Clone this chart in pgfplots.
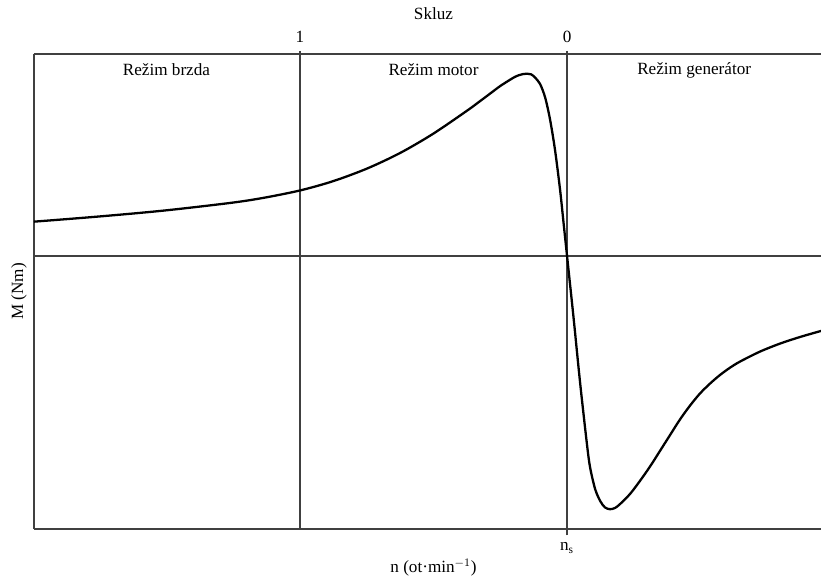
\documentclass[border=0pt]{standalone}
\usepackage{pgfplots}
\usepackage{pgfplotstable}
\pgfplotsset{compat=1.18}
\usepackage{fontspec}
\setmainfont{Liberation Serif}

\pgfplotstableread{
n M
-0.996 34.3
-0.760 39.3
-0.513 45.3
-0.262 53
-0.139 58
0 65.5
0.124 74.8
0.251 87.4
0.375 103
0.498 122.1
0.625 145.2
0.674 154.8
0.712 162.4
0.749 169.8
0.787 176.3
0.805 179.1
0.820 180.8
0.835 181.9
0.850 182.3
0.865 181.7
0.880 178.5
0.899 172
0.918 158.5
0.936 137
0.955 106
0.974 66
0.987 33
1.000 0
1.024 -60.7
1.049 -127
1.074 -187
1.086 -211
1.105 -233
1.124 -245
1.142 -251.5
1.161 -253.3
1.180 -252
1.199 -248
1.236 -238
1.273 -225
1.311 -210.5
1.348 -195
1.386 -179
1.423 -163.5
1.461 -149.5
1.498 -137.5
1.536 -127.5
1.573 -119
1.610 -111.8
1.648 -105.6
1.723 -95.6
1.798 -87.6
1.873 -81
1.951 -75
}\curve

\begin{document}
\begin{tikzpicture}[font=\fontsize{12}{14}\selectfont]
\pgfplotsset{
  common/.style={
    scale only axis, width=551pt, height=332.5pt,
    xmin=-0.996, xmax=1.951, ymin=-273, ymax=202,
    tick align=outside, major tick length=4.5pt,
    tick style={black!75, line width=0.8pt},
    ytick=\empty,
  },
  nolinearrows/.style={
    axis line style={-, draw=black!75, line width=0.9pt},
    every outer x axis line/.append style={-},
    every outer y axis line/.append style={-},
    every inner x axis line/.append style={-},
    every inner y axis line/.append style={-},
  }
}
\begin{axis}[common, name=ax,
  axis x line=box, axis y line=left, nolinearrows,
  xtick={1}, xticklabels={n\textsubscript{s}}, xtick pos=bottom,
  xticklabel style={yshift=-1.5pt},
  clip=false,
]
\draw[black!75, line width=0.9pt] (axis cs:0,-273) -- (axis cs:0,202);
\draw[black!75, line width=0.9pt] (axis cs:1,-273) -- (axis cs:1,202);
\draw[black!75, line width=0.9pt] (axis cs:-0.996,0) -- (axis cs:1.951,0);
\addplot[black, line width=1.6pt, smooth] table {\curve};
\node[yshift=-11.2pt] at (axis cs:-0.5,202) {Režim brzda};
\node[yshift=-11.2pt] at (axis cs:0.5,202) {Režim motor};
\node[yshift=-11.2pt] at (axis cs:1.476,202) {Režim generátor};
\node[yshift=28pt] at (axis cs:0.5,202) {Skluz};
\node[yshift=-27.3pt] at (axis cs:0.5,-273) {n (ot·min\textsuperscript{$-1$})};
\node[rotate=90] at ([xshift=-10.5pt]axis cs:-0.996,-35.5) {M (Nm)};
\end{axis}
\begin{axis}[common,
  axis x line=top, axis y line=none, nolinearrows,
  xtick={0,1}, xticklabels={1,0},
  xticklabel style={yshift=2pt},
]
\end{axis}
\pgfresetboundingbox
\path[use as bounding box] ([shift={(-23.8pt,-36.4pt)}]ax.south west) rectangle ([shift={(0pt,37.8pt)}]ax.north east);
\end{tikzpicture}
\end{document}
